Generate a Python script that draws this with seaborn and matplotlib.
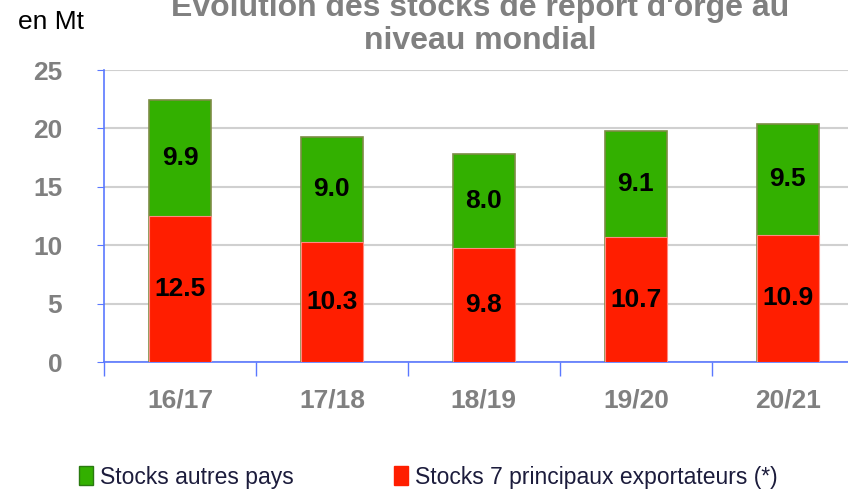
import numpy as np
import pandas as pd
import matplotlib
matplotlib.use("Agg")
import matplotlib.pyplot as plt
import seaborn as sb
from matplotlib.patches import Patch

campagnes = ["16/17", "17/18", "18/19", "19/20", "20/21"]
principaux = [12.5, 10.3, 9.8, 10.7, 10.9]
autres = [9.9, 9.0, 8.0, 9.1, 9.5]

df = pd.DataFrame({"campagne": campagnes, "principaux": principaux, "autres": autres})
df["total"] = df["principaux"] + df["autres"]

sb.set_style("white")
plt.rcParams["font.family"] = ["Liberation Sans", "DejaVu Sans"]

green = "#33b000"
red = "#ff1e00"
gray = "#808080"
blue = "#5a78ff"

fig = plt.figure(figsize=(8.48, 4.91), dpi=100)
ax = fig.add_axes([0.1226, 0.2627, 0.896, 0.5947])

# total (green) first, then red bottom part on top
sb.barplot(data=df, x="campagne", y="total", color=green, width=0.41,
           edgecolor="#7d8c45", linewidth=1.2, saturation=1, ax=ax, zorder=3)
sb.barplot(data=df, x="campagne", y="principaux", color=red, width=0.41,
           edgecolor="#ff8a80", linewidth=0.8, saturation=1, ax=ax, zorder=4)

for i, row in df.iterrows():
    ax.text(i, row["principaux"] / 2, f"{row['principaux']:.1f}", ha="center", va="center",
            fontsize=19, fontweight="bold", color="black", zorder=5)
    ax.text(i, row["principaux"] + row["autres"] / 2, f"{row['autres']:.1f}", ha="center",
            va="center", fontsize=19, fontweight="bold", color="black", zorder=5)

ax.set_xlim(-0.5, 4.5)
ax.set_ylim(0, 25)
ax.set_yticks(np.arange(0, 26, 5))
ax.yaxis.grid(True, color="#d0d0d0", linewidth=1.5, zorder=0)
ax.set_axisbelow(True)
ax.set_xlabel("")
ax.set_ylabel("")

for s in ["top", "right"]:
    ax.spines[s].set_visible(False)
for s in ["left", "bottom"]:
    ax.spines[s].set_color(blue)
    ax.spines[s].set_linewidth(1.2)

ax.tick_params(axis="y", left=True, length=5, color=blue, pad=25,
               labelsize=19, labelcolor=gray)
for lab in ax.get_yticklabels():
    lab.set_fontweight("bold")
ax.set_xticks(np.arange(-0.5, 5, 1), minor=True)
ax.tick_params(axis="x", which="minor", bottom=True, length=10, color=blue, width=1)
ax.tick_params(axis="x", which="major", bottom=False, length=0, pad=19,
               labelsize=19, labelcolor=gray)
for lab in ax.get_xticklabels():
    lab.set_fontweight("bold")

fig.text(0.566, 0.95, "Evolution des stocks de report d'orge au\nniveau mondial",
         ha="center", va="center", fontsize=23, fontweight="bold", color=gray, linespacing=1.12)
fig.text(0.021, 0.955, "en Mt", ha="left", va="center", fontsize=19, color="black")

handles = [Patch(facecolor=green, edgecolor="#2a7a10", label="Stocks autres pays"),
           Patch(facecolor=red, edgecolor=red, label="Stocks 7 principaux exportateurs (*)")]
leg = fig.legend(handles=handles, loc="center", bbox_to_anchor=(0.505, 0.028), ncol=2,
                 frameon=False, handlelength=0.6, handleheight=0.9, handletextpad=0.3,
                 columnspacing=4.4, fontsize=16.5)
for t in leg.get_texts():
    t.set_color("#1c1c3c")

fig.savefig("out.png", dpi=100)
